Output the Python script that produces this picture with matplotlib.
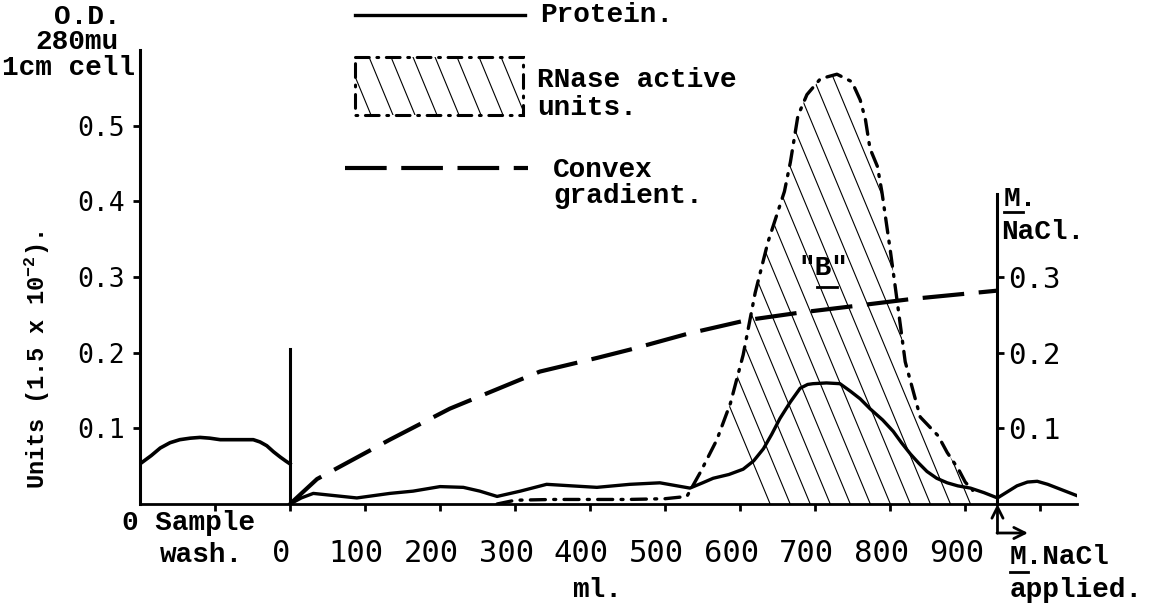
import numpy as np
import matplotlib
matplotlib.use("Agg")
from matplotlib import pyplot as plt
from matplotlib.patches import Polygon, Rectangle
from matplotlib.transforms import ScaledTranslation

plt.rcParams['font.family'] = ['Liberation Mono', 'DejaVu Sans Mono']
plt.rcParams['mathtext.fontset'] = 'custom'
plt.rcParams['mathtext.rm'] = 'Liberation Mono'
plt.rcParams['mathtext.default'] = 'regular'

# protein O.D. 280 during the sample wash (plotted at negative ml)
wash_ml = [-200, -185, -173, -160, -147, -133, -120, -107, -93, -76, -62,
           -49, -40, -31, -22, -13, -6, 0]
wash_od = [0.053, 0.064, 0.074, 0.081, 0.085, 0.087, 0.088, 0.087, 0.085,
           0.085, 0.085, 0.085, 0.082, 0.077, 0.069, 0.062, 0.057, 0.053]

# protein O.D. 280 through the gradient
prot_ml = [0, 15, 31, 60, 89, 133, 164, 200, 231, 253, 276, 307, 342, 375,
           409, 453, 493, 533, 550, 564, 585, 604, 618, 631, 642, 653, 667,
           680, 690, 697, 715, 733, 747, 760, 773, 790, 804, 815, 827, 838,
           849, 862, 876, 890, 907, 925, 943, 956, 969, 983, 996, 1010, 1023,
           1036, 1049]
prot_od = [0.0, 0.008, 0.014, 0.011, 0.008, 0.014, 0.017, 0.023, 0.022,
           0.017, 0.010, 0.017, 0.026, 0.024, 0.022, 0.026, 0.028, 0.021,
           0.028, 0.034, 0.039, 0.046, 0.057, 0.073, 0.092, 0.113, 0.135,
           0.153, 0.158, 0.159, 0.160, 0.159, 0.149, 0.139, 0.126, 0.111,
           0.096, 0.081, 0.066, 0.054, 0.043, 0.034, 0.028, 0.024, 0.021,
           0.015, 0.008, 0.016, 0.024, 0.029, 0.030, 0.026, 0.021, 0.016,
           0.011]

# RNase activity, peak "B"
rnase_ml = [276, 300, 350, 400, 450, 500, 529, 547, 569, 587, 604, 620, 637,
            659, 667, 677, 689, 707, 729, 749, 760, 767, 773, 783, 789, 800,
            807, 820, 840, 864, 876, 891, 900, 910]
rnase_units = [0.0, 0.005, 0.006, 0.006, 0.006, 0.007, 0.010, 0.042, 0.085,
               0.133, 0.197, 0.279, 0.346, 0.413, 0.452, 0.513, 0.541, 0.562,
               0.568, 0.558, 0.534, 0.508, 0.470, 0.446, 0.412, 0.336, 0.285,
               0.188, 0.115, 0.090, 0.068, 0.046, 0.029, 0.018]

# convex NaCl gradient (M)
grad_ml = [0, 36, 133, 213, 333, 409, 453, 530, 609, 680, 747, 829, 943]
grad_nacl = [0.0, 0.033, 0.085, 0.126, 0.175, 0.193, 0.204, 0.225, 0.243,
             0.253, 0.261, 0.271, 0.282]

xtick_ml = [0, 100, 200, 300, 400, 500, 600, 700, 800, 900]
od_ticks = [0.1, 0.2, 0.3, 0.4, 0.5]
nacl_ticks = [0.1, 0.2, 0.3]
nacl_applied_ml = 943
nacl_axis_top = 0.41
divider_top = 0.205

W, H = 1167, 605
fig = plt.figure(figsize=(W / 100, H / 100), dpi=100)
ax = fig.add_axes([140 / W, 101 / H, 937 / W, 454 / H])
ax.set_xlim(-200, 1049)
ax.set_ylim(0, 0.6)
for s in ['top', 'right']:
    ax.spines[s].set_visible(False)
ax.spines['left'].set_linewidth(2.2)
ax.spines['bottom'].set_linewidth(2.0)

ax.set_xticks([-100] + xtick_ml + [1000],
              [''] + [str(v) for v in xtick_ml] + [''],
              fontfamily='DejaVu Sans Mono', fontsize=22)
ax.tick_params(axis='x', direction='out', length=5, width=2, pad=20)
shift = ScaledTranslation(-9 / 100, 0, fig.dpi_scale_trans)
for lab in ax.get_xticklabels():
    lab.set_transform(lab.get_transform() + shift)
ax.set_yticks(od_ticks, [f'{v:.1f}' for v in od_ticks],
              fontfamily='DejaVu Sans Mono', fontsize=19)
ax.tick_params(axis='y', direction='out', length=5, width=2, pad=6)

# wash / gradient divider
ax.plot([0, 0], [0, divider_top], color='k', lw=2.2)

# hatched area under the RNase curve
verts = list(zip(rnase_ml, rnase_units)) + [(rnase_ml[-1], 0), (rnase_ml[0], 0)]
area = Polygon(verts, closed=True, fill=False, edgecolor='none')
ax.add_patch(area)
for x0 in np.arange(380, 1000, 26.7):
    ln, = ax.plot([x0, x0 + 260], [0.62, 0], color='k', lw=0.8)
    ln.set_clip_path(area)

dashdot = (4.5, 2.5, 0.6, 2.5)
ax.plot(rnase_ml, rnase_units, color='k', lw=2.4, dashes=dashdot,
        dash_capstyle='round')
ax.plot(wash_ml, wash_od, color='k', lw=2.6, solid_joinstyle='round')
ax.plot(prot_ml, prot_od, color='k', lw=2.4, solid_joinstyle='round')

# NaCl axis on the right, starting where the gradient ends
ax2 = ax.twinx()
ax2.set_ylim(0, 0.6)
for s in ['left', 'top', 'bottom']:
    ax2.spines[s].set_visible(False)
ax2.spines['right'].set_position(('data', nacl_applied_ml))
ax2.spines['right'].set_bounds(0, nacl_axis_top)
ax2.spines['right'].set_linewidth(2.2)
ax2.set_yticks(nacl_ticks, [f'{v:.1f}' for v in nacl_ticks],
               fontfamily='DejaVu Sans Mono', fontsize=21)
ax2.tick_params(axis='y', direction='out', length=5, width=2, pad=3)
ax2.plot(grad_ml, grad_nacl, color='k', lw=3, dashes=(10, 3.5))

# arrow marking where M NaCl was applied
arrow = dict(arrowstyle='->', lw=2, color='k', shrinkA=0, shrinkB=0,
             mutation_scale=20)
ax.annotate('', xy=(nacl_applied_ml, 0), xytext=(0, -21),
            textcoords='offset points', annotation_clip=False, arrowprops=arrow)

# overlay in pixel units for labels and key
ov = fig.add_axes([0, 0, 1, 1], zorder=5)
ov.set_xlim(0, W)
ov.set_ylim(H, 0)
ov.axis('off')
ov.annotate('', xy=(1028, 533), xytext=(997, 533), arrowprops=arrow)

t = dict(color='k', fontweight='bold', fontsize=20)
ov.text(87, 17, 'O.D.', ha='center', va='center', **t)
ov.text(77, 42, '280mu', ha='center', va='center', **t)
ov.text(68, 68, '1cm cell', ha='center', va='center', **t)
ov.text(37, 360, 'Units (1.5 x 10$^{-2}$).', rotation=90, ha='center',
        va='center', color='k', fontweight='bold', fontsize=17)

# key
ov.plot([355, 525], [15, 15], color='k', lw=2.4)
ov.text(540, 15, 'Protein.', va='center', **t)
box = Rectangle((355, 57), 168, 58, fill=False, edgecolor='k', lw=2.2,
                linestyle=(0, dashdot), capstyle='round')
ov.add_patch(box)
clip = Rectangle((355, 57), 168, 58, fill=False, edgecolor='none')
ov.add_patch(clip)
for x0 in np.arange(325, 530, 22):
    ln, = ov.plot([x0, x0 + 24], [57, 115], color='k', lw=0.8)
    ln.set_clip_path(clip)
ov.text(537, 80, 'RNase active', va='center', **t)
ov.text(537, 108, 'units.', va='center', **t)
ov.plot([345, 528], [168, 168], color='k', lw=3, dashes=(10, 3.5))
ov.text(553, 170, 'Convex', va='center', **t)
ov.text(553, 196, 'gradient.', va='center', **t)

ov.text(823, 268, '"B"', ha='center', va='center', **t)
ov.plot([817, 837], [287, 287], color='k', lw=2)
ov.text(1004, 199, 'M.', va='center', **t)
ov.plot([1004, 1023], [212, 212], color='k', lw=2)
ov.text(1001, 232, 'NaCl.', va='center', **t)

ov.text(122, 523, '0 Sample', va='center', **t)
ov.text(160, 555, 'wash.', va='center', **t)
ov.text(597, 590, 'ml.', ha='center', va='center', **t)
ov.text(1010, 557, 'M.NaCl', va='center', **t)
ov.plot([1010, 1028], [572, 572], color='k', lw=2)
ov.text(1010, 590, 'applied.', va='center', **t)

fig.savefig('out.png', dpi=100)
